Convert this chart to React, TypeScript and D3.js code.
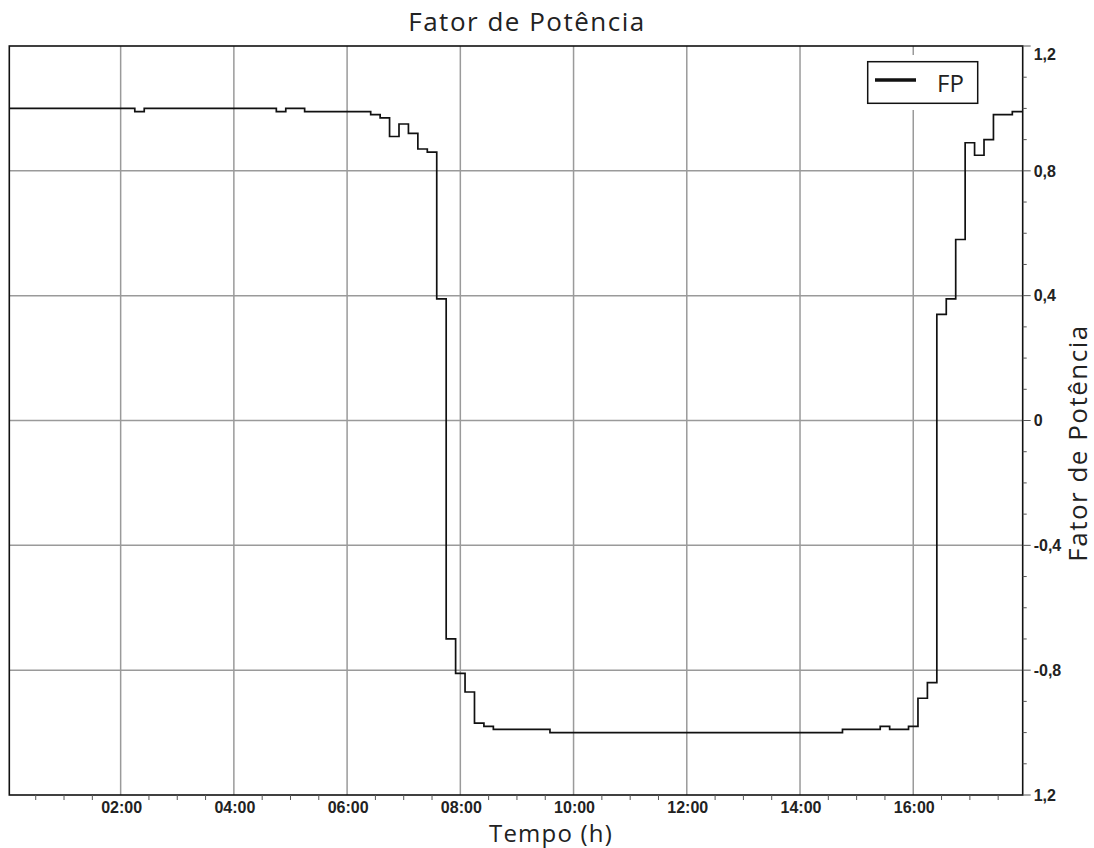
import React, { useEffect } from "react";
import * as d3 from "d3";

const WIDTH = 1094;
const HEIGHT = 848;

// Plot frame (pixels)
const PLOT = { left: 9.3, top: 46, right: 1022.7, bottom: 795 };

// Time axis in minutes after midnight
const timeDomain = [2, 1076];
// Power factor sampled every 10 minutes, first sample at 00:05
const sampleStartMin = 5;
const sampleStepMin = 10;
const fpValues = [
  1.0, 1.0, 1.0, 1.0, 1.0, 1.0,
  1.0, 1.0, 1.0, 1.0, 1.0, 1.0,
  1.0, 0.99, 1.0, 1.0, 1.0, 1.0,
  1.0, 1.0, 1.0, 1.0, 1.0, 1.0,
  1.0, 1.0, 1.0, 1.0, 0.99, 1.0,
  1.0, 0.99, 0.99, 0.99, 0.99, 0.99,
  0.99, 0.99, 0.98, 0.97, 0.91, 0.95,
  0.92, 0.87, 0.86, 0.39, -0.7, -0.81,
  -0.87, -0.97, -0.98, -0.99, -0.99, -0.99,
  -0.99, -0.99, -0.99, -1.0, -1.0, -1.0,
  -1.0, -1.0, -1.0, -1.0, -1.0, -1.0,
  -1.0, -1.0, -1.0, -1.0, -1.0, -1.0,
  -1.0, -1.0, -1.0, -1.0, -1.0, -1.0,
  -1.0, -1.0, -1.0, -1.0, -1.0, -1.0,
  -1.0, -1.0, -1.0, -1.0, -0.99, -0.99,
  -0.99, -0.99, -0.98, -0.99, -0.99, -0.98,
  -0.89, -0.84, 0.34, 0.39, 0.58, 0.89,
  0.85, 0.9, 0.98, 0.98, 0.99, 0.99,
];

const xMajorHours = [2, 4, 6, 8, 10, 12, 14, 16];
const xTickLabels = ["02:00", "04:00", "06:00", "08:00", "10:00", "12:00", "14:00", "16:00"];
const yDomain = [-1.2, 1.2];
const yTicks = [1.2, 0.8, 0.4, 0, -0.4, -0.8, -1.2];
const yTickLabels = ["1,2", "0,8", "0,4", "0", "-0,4", "-0,8", "1,2"];
const yGridValues = [0.8, 0.4, 0, -0.4, -0.8];

const chartTitle = "Fator de Potência";
const xTitle = "Tempo (h)";
const yTitle = "Fator de Potência";
const seriesName = "FP";

const TITLE_FONT = "'Open Sans', 'Noto Sans', sans-serif";
const TICK_FONT = "'Liberation Sans', Arial, sans-serif";

export default function App() {
  useEffect(() => {
    document.body.style.margin = "0";
  }, []);

  const x = d3.scaleLinear().domain(timeDomain).range([PLOT.left, PLOT.right]);
  const y = d3.scaleLinear().domain(yDomain).range([PLOT.bottom, PLOT.top]);

  const points = [
    { t: timeDomain[0], v: fpValues[0] },
    ...fpValues.map((v, i) => ({ t: sampleStartMin + i * sampleStepMin, v })),
    { t: timeDomain[1], v: fpValues[fpValues.length - 1] },
  ];

  const line = d3
    .line<{ t: number; v: number }>()
    .x((d) => x(d.t))
    .y((d) => y(d.v))
    .curve(d3.curveStepAfter);

  // minor x ticks every 30 minutes (not on labelled hours)
  const xMinor = d3
    .range(30, timeDomain[1], 30)
    .filter((m) => m % 120 !== 0);
  const yMinor = d3
    .range(-11, 12)
    .map((k) => k / 10)
    .filter((v) => Math.abs(Math.round(v * 10) % 4) !== 0);

  const gridColor = "#9a9a9a";
  const textColor = "#222";

  return (
    <svg width={WIDTH} height={HEIGHT} style={{ display: "block", background: "#fff" }}>
      <defs>
        <clipPath id="plot-clip">
          <rect x={PLOT.left} y={PLOT.top} width={PLOT.right - PLOT.left} height={PLOT.bottom - PLOT.top} />
        </clipPath>
      </defs>

      {/* grid */}
      {xMajorHours.map((h) => (
        <line key={"gx" + h} x1={x(h * 60)} x2={x(h * 60)} y1={PLOT.top} y2={PLOT.bottom} stroke={gridColor} strokeWidth={1.5} />
      ))}
      {yGridValues.map((v) => (
        <line key={"gy" + v} x1={PLOT.left} x2={PLOT.right} y1={y(v)} y2={y(v)} stroke={gridColor} strokeWidth={1.5} />
      ))}

      {/* series */}
      <path d={line(points) || ""} fill="none" stroke="#111" strokeWidth={1.7} clipPath="url(#plot-clip)" />

      {/* frame */}
      <rect x={PLOT.left} y={PLOT.top} width={PLOT.right - PLOT.left} height={PLOT.bottom - PLOT.top} fill="none" stroke="#111" strokeWidth={1.6} />

      {/* bottom axis ticks */}
      {xMinor.map((m) => (
        <line key={"xm" + m} x1={x(m)} x2={x(m)} y1={PLOT.bottom} y2={PLOT.bottom + 5} stroke="#555" strokeWidth={1} />
      ))}
      {xMajorHours.map((h, i) => (
        <text key={"xl" + h} x={x(h * 60) + 1} y={813} textAnchor="middle" fontFamily={TICK_FONT} fontWeight="bold" fontSize={16} fill={textColor}>
          {xTickLabels[i]}
        </text>
      ))}

      {/* right axis ticks */}
      {yMinor.map((v) => (
        <line key={"ym" + v} x1={PLOT.right} x2={PLOT.right + 4} y1={y(v)} y2={y(v)} stroke="#555" strokeWidth={1} />
      ))}
      {yTicks.map((v, i) => (
        <g key={"yt" + i}>
          <line x1={PLOT.right} x2={PLOT.right + 8} y1={y(v)} y2={y(v)} stroke="#555" strokeWidth={1} />
          <text x={PLOT.right + 11} y={Math.max(y(v), PLOT.top + 8)} dy="0.36em" fontFamily={TICK_FONT} fontWeight="bold" fontSize={16} fill={textColor}>
            {yTickLabels[i]}
          </text>
        </g>
      ))}

      {/* titles */}
      <text x={527} y={31} textAnchor="middle" fontFamily={TITLE_FONT} fontSize={26} letterSpacing={1.5} fill={textColor}>
        {chartTitle}
      </text>
      <text x={551} y={842} textAnchor="middle" fontFamily={TITLE_FONT} fontSize={24} letterSpacing={1.2} fill={textColor}>
        {xTitle}
      </text>
      <text transform={`translate(1087, 443) rotate(-90)`} textAnchor="middle" fontFamily={TITLE_FONT} fontSize={26} letterSpacing={1.5} fill={textColor}>
        {yTitle}
      </text>

      {/* legend */}
      <rect x={861} y={55} width={124} height={55} fill="#fff" />
      <rect x={867.7} y={61.7} width={110} height={41.6} fill="#fff" stroke="#111" strokeWidth={1.5} />
      <line x1={875} x2={916} y1={80} y2={80} stroke="#111" strokeWidth={3.5} />
      <text x={937} y={92} fontFamily={TITLE_FONT} fontSize={24} fill={textColor}>
        {seriesName}
      </text>
    </svg>
  );
}
